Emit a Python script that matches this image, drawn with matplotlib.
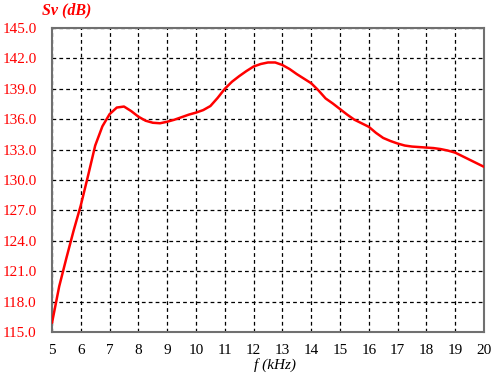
import matplotlib
matplotlib.use("Agg")
import matplotlib.pyplot as plt

freq_khz = [5.0, 5.25, 5.5, 5.75, 6.0, 6.25, 6.5, 6.75, 7.0, 7.25, 7.5, 7.75,
            8.0, 8.25, 8.5, 8.75, 9.0, 9.25, 9.5, 9.75, 10.0, 10.25, 10.5, 10.75,
            11.0, 11.25, 11.5, 11.75, 12.0, 12.25, 12.5, 12.75, 13.0, 13.25, 13.5, 13.75,
            14.0, 14.25, 14.5, 14.75, 15.0, 15.25, 15.5, 15.75, 16.0, 16.25, 16.5, 16.75,
            17.0, 17.25, 17.5, 17.75, 18.0, 18.25, 18.5, 18.75, 19.0, 19.25, 19.5, 19.75, 20.0]
sv_db = [115.9, 119.5, 122.3, 125.0, 127.5, 130.4, 133.4, 135.3, 136.5, 137.15, 137.25, 136.8,
         136.25, 135.85, 135.65, 135.6, 135.75, 135.95, 136.2, 136.45, 136.65, 136.9, 137.3, 138.1,
         139.0, 139.7, 140.25, 140.75, 141.2, 141.45, 141.6, 141.6, 141.35, 140.95, 140.45, 140.0,
         139.55, 138.85, 138.05, 137.55, 137.0, 136.45, 135.95, 135.6, 135.25, 134.65, 134.15, 133.85,
         133.6, 133.4, 133.3, 133.25, 133.2, 133.15, 133.05, 132.9, 132.7, 132.35, 132.0, 131.65, 131.3]
x_ticks = list(range(5, 21))
y_ticks = [115.0, 118.0, 121.0, 124.0, 127.0, 130.0, 133.0, 136.0, 139.0, 142.0, 145.0]

plt.rcParams['font.family'] = ['Liberation Serif', 'DejaVu Serif']

fig = plt.figure(figsize=(5, 3.75), dpi=100)
ax = fig.add_axes([0.104, 0.1147, 0.864, 0.8106])

ax.plot(freq_khz, sv_db, color='#ff0000', linewidth=1.8, zorder=3,
        solid_joinstyle='round', solid_capstyle='round')

ax.set_xlim(5, 20)
ax.set_ylim(115, 145)
ax.set_xticks(x_ticks)
ax.set_yticks(y_ticks)
ax.set_yticklabels([f"{v:.1f}" for v in y_ticks])
ax.tick_params(axis='both', length=0, labelsize=11)
ax.tick_params(axis='x', pad=9, colors='black')
ax.tick_params(axis='y', pad=11, labelcolor='#ff0000')

ax.grid(True, color='black', linestyle=(0, (3, 2.5)), linewidth=0.9)
for s in ax.spines.values():
    s.set_color('#707070')
    s.set_linewidth(1.5)

fig.text(0.084, 0.972, 'Sv (dB)', color='#ff0000', fontsize=11.5, fontweight='bold',
         fontstyle='italic', ha='left', va='center')
fig.text(0.55, 0.027, 'f (kHz)', color='black', fontsize=11, fontstyle='italic',
         ha='center', va='center')

fig.savefig('out.png', dpi=100)
